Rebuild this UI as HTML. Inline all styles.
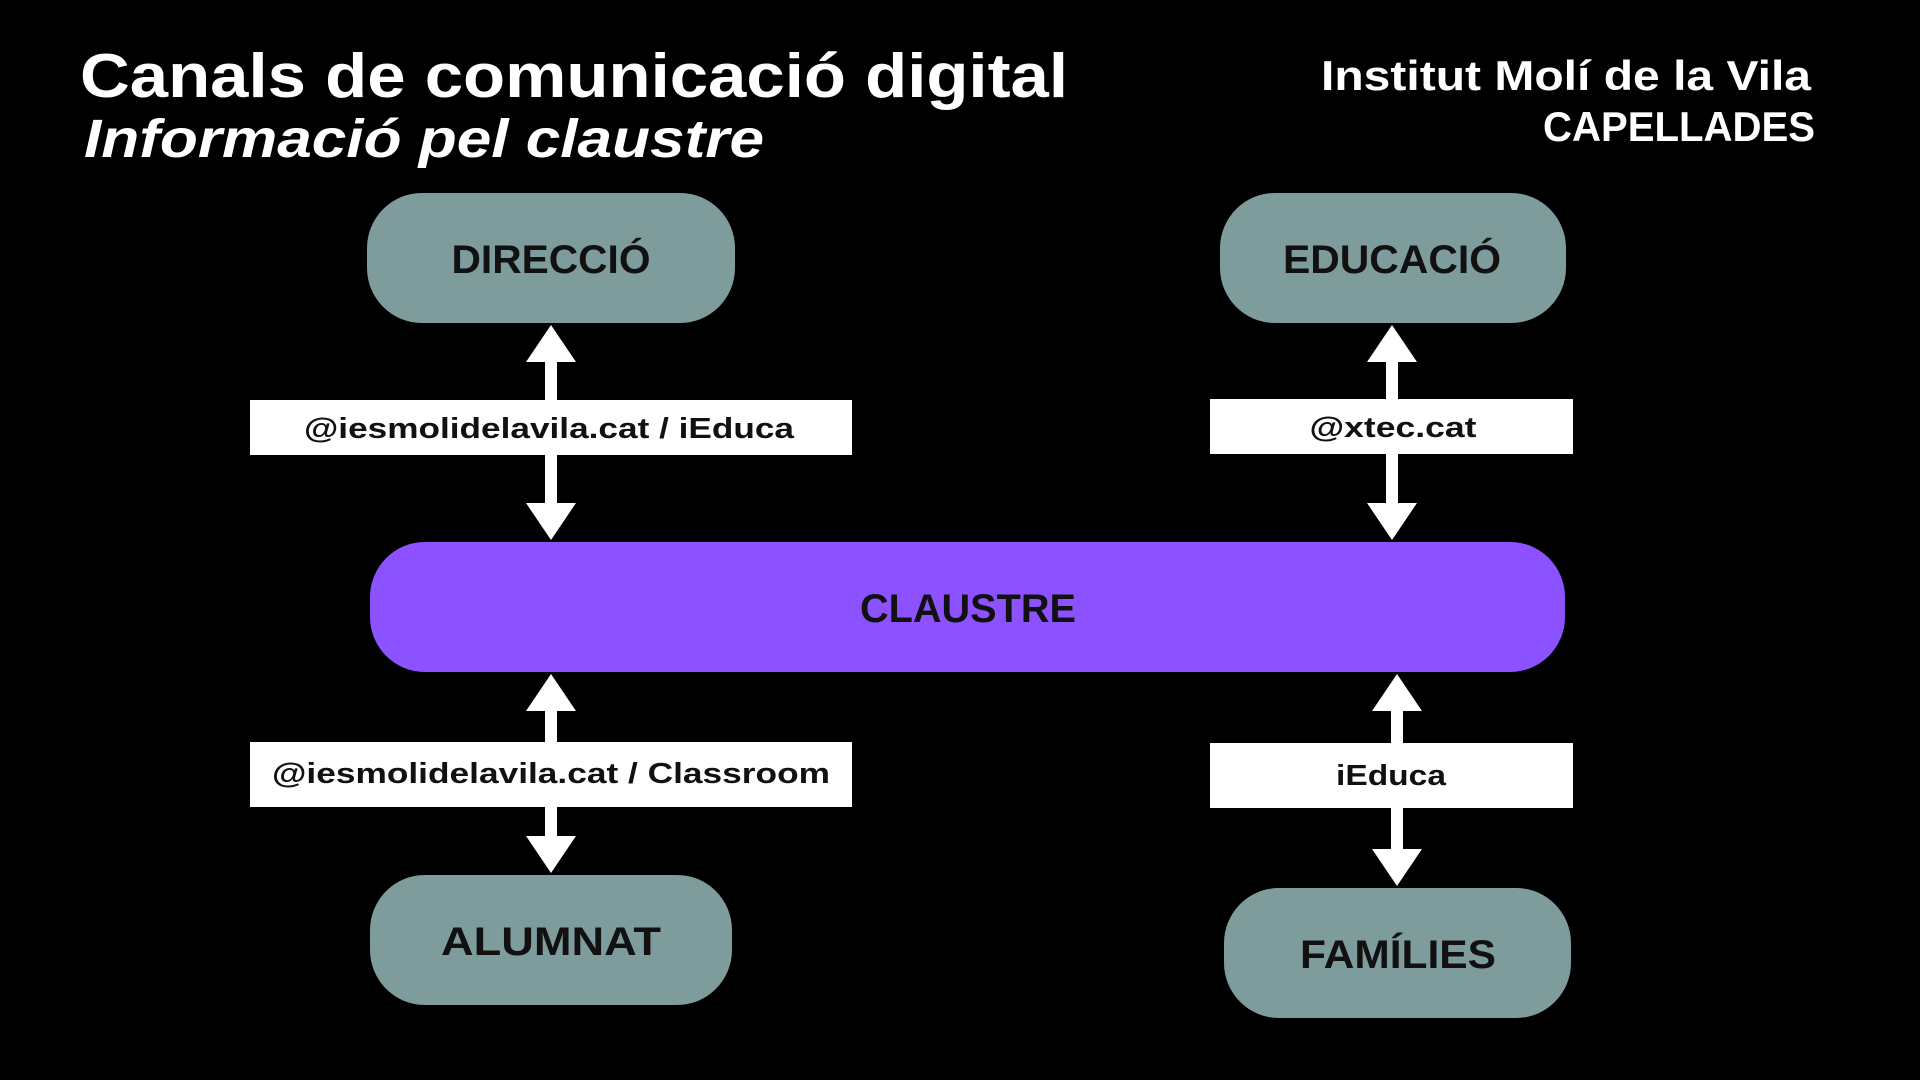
<!DOCTYPE html>
<html><head><meta charset="utf-8"><style>
html,body{margin:0;padding:0;background:#000;}
svg{display:block}
text{font-family:"Liberation Sans",sans-serif;font-weight:bold;}
</style></head><body>
<svg width="1920" height="1080" viewBox="0 0 1920 1080" xmlns="http://www.w3.org/2000/svg">
<rect width="1920" height="1080" fill="#000"/>
<text x="80" y="97" font-size="62" fill="#fff" textLength="988" lengthAdjust="spacingAndGlyphs">Canals de comunicació digital</text>
<text x="84" y="157" font-size="54" font-style="italic" fill="#fff" textLength="680" lengthAdjust="spacingAndGlyphs">Informació pel claustre</text>
<text x="1811" y="90" font-size="42" fill="#fff" text-anchor="end" textLength="490" lengthAdjust="spacingAndGlyphs">Institut Molí de la Vila</text>
<text x="1815" y="141" font-size="42" fill="#fff" text-anchor="end" textLength="272" lengthAdjust="spacingAndGlyphs">CAPELLADES</text>
<g fill="#fff">
<rect x="545" y="350" width="12" height="165"/>
<polygon points="551,325 576,362 526,362"/>
<polygon points="551,540 576,503 526,503"/>
<rect x="1386" y="350" width="12" height="165"/>
<polygon points="1392,325 1417,362 1367,362"/>
<polygon points="1392,540 1417,503 1367,503"/>
<rect x="545" y="700" width="12" height="150"/>
<polygon points="551,674 576,711 526,711"/>
<polygon points="551,873 576,836 526,836"/>
<rect x="1391" y="700" width="12" height="160"/>
<polygon points="1397,674 1422,711 1372,711"/>
<polygon points="1397,886 1422,849 1372,849"/>
</g>
<rect x="367" y="193" width="368" height="130" rx="55" fill="#7f9c9c"/>
<rect x="1220" y="193" width="346" height="130" rx="55" fill="#7f9c9c"/>
<rect x="370" y="542" width="1195" height="130" rx="55" fill="#8c52ff"/>
<rect x="370" y="875" width="362" height="130" rx="55" fill="#7f9c9c"/>
<rect x="1224" y="888" width="347" height="130" rx="55" fill="#7f9c9c"/>
<g font-size="40" fill="#111" text-anchor="middle">
<text x="551" y="273" textLength="199" lengthAdjust="spacingAndGlyphs">DIRECCIÓ</text>
<text x="1392" y="273" textLength="218" lengthAdjust="spacingAndGlyphs">EDUCACIÓ</text>
<text x="968" y="622" textLength="216" lengthAdjust="spacingAndGlyphs">CLAUSTRE</text>
<text x="551" y="955" textLength="220" lengthAdjust="spacingAndGlyphs">ALUMNAT</text>
<text x="1398" y="968" textLength="196" lengthAdjust="spacingAndGlyphs">FAMÍLIES</text>
</g>
<g fill="#fff">
<rect x="250" y="400" width="602" height="55"/>
<rect x="1210" y="399" width="363" height="55"/>
<rect x="250" y="742" width="602" height="65"/>
<rect x="1210" y="743" width="363" height="65"/>
</g>
<g font-size="29" fill="#111" text-anchor="middle">
<text x="549" y="438" textLength="490" lengthAdjust="spacingAndGlyphs">@iesmolidelavila.cat / iEduca</text>
<text x="1393" y="437" textLength="167" lengthAdjust="spacingAndGlyphs">@xtec.cat</text>
<text x="551" y="783" textLength="558" lengthAdjust="spacingAndGlyphs">@iesmolidelavila.cat / Classroom</text>
<text x="1391" y="785" textLength="110" lengthAdjust="spacingAndGlyphs">iEduca</text>
</g>
</svg>
</body></html>
